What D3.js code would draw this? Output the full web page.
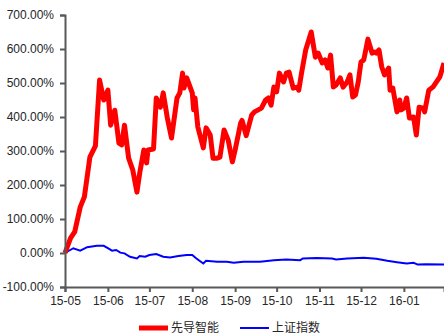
<!DOCTYPE html>
<html>
<head>
<meta charset="utf-8">
<script src="https://cdn.jsdelivr.net/npm/d3@7"></script>
<style>
  body { margin: 0; background: #fff; }
  text { font-family: "Liberation Sans", Arial, sans-serif; }
</style>
</head>
<body>
<div id="chart"></div>
<script>
// 先导智能 vs 上证指数, cumulative return (%)
var seriesNames = ["先导智能", "上证指数"];
var yTicks = [-100, 0, 100, 200, 300, 400, 500, 600, 700];
var monthTicks = ["2015-05-01","2015-06-01","2015-07-01","2015-08-01","2015-09-01","2015-10-01","2015-11-01","2015-12-01","2016-01-01"];

var xdDates = ["2015-05-01","2015-05-05","2015-05-08","2015-05-12","2015-05-15","2015-05-19","2015-05-23","2015-05-26","2015-05-29","2015-06-01",
  "2015-06-03","2015-06-06","2015-06-09","2015-06-11","2015-06-13","2015-06-16","2015-06-19","2015-06-22","2015-06-24","2015-06-27",
  "2015-06-29","2015-06-30","2015-07-04","2015-07-06","2015-07-09","2015-07-11","2015-07-14","2015-07-17","2015-07-21","2015-07-23",
  "2015-07-25","2015-07-26","2015-07-28","2015-08-01","2015-08-02","2015-08-03","2015-08-05","2015-08-09","2015-08-11","2015-08-14",
  "2015-08-16","2015-08-19","2015-08-21","2015-08-24","2015-08-27","2015-08-30","2015-09-01","2015-09-05","2015-09-06","2015-09-09",
  "2015-09-13","2015-09-15","2015-09-20","2015-09-23","2015-09-25","2015-09-27","2015-09-29","2015-10-01","2015-10-03","2015-10-06",
  "2015-10-08","2015-10-10","2015-10-13","2015-10-16","2015-10-17","2015-10-19","2015-10-22","2015-10-26","2015-10-29","2015-10-31",
  "2015-11-03","2015-11-05","2015-11-07","2015-11-09","2015-11-11","2015-11-13","2015-11-16","2015-11-18","2015-11-21","2015-11-23",
  "2015-11-25","2015-11-27","2015-11-29","2015-12-01","2015-12-03","2015-12-06","2015-12-09","2015-12-11","2015-12-12","2015-12-14",
  "2015-12-16","2015-12-18","2015-12-21","2015-12-22","2015-12-24","2015-12-27","2015-12-29","2015-12-30","2016-01-01","2016-01-03",
  "2016-01-05","2016-01-08","2016-01-10","2016-01-12","2016-01-15","2016-01-16","2016-01-19","2016-01-22","2016-01-27","2016-01-30"];
var xdValues = [0,44,62,135,165,282,315,509,450,479,
  376,420,323,318,376,279,244,179,235,303,
  265,303,306,456,429,471,397,338,456,471,
  529,485,515,471,421,456,371,309,368,347,
  279,279,282,362,332,268,303,382,390,345,
  406,415,426,450,456,435,488,474,529,503,
  529,532,485,488,479,529,597,650,576,588,
  559,568,544,582,488,494,515,488,503,524,
  459,465,503,562,568,629,588,591,588,597,
  547,524,544,479,485,415,450,421,426,456,
  397,400,347,429,426,415,479,488,518,559];

var szDates = ["2015-05-01","2015-05-07","2015-05-12","2015-05-17","2015-05-24","2015-05-29","2015-06-01","2015-06-04","2015-06-07","2015-06-10",
  "2015-06-13","2015-06-17","2015-06-22","2015-06-24","2015-06-28","2015-07-01","2015-07-06","2015-07-11","2015-07-16","2015-07-22",
  "2015-07-28","2015-08-01","2015-08-04","2015-08-09","2015-08-11","2015-08-19","2015-08-26","2015-08-31","2015-09-07","2015-09-19",
  "2015-09-29","2015-10-08","2015-10-18","2015-10-20","2015-10-30","2015-11-10","2015-11-13","2015-11-21","2015-12-03","2015-12-12",
  "2015-12-20","2015-12-27","2016-01-03","2016-01-08","2016-01-11","2016-01-17","2016-01-30"];
var szValues = [0,14,7,17,21,21,14,7,9,1,
  -1,-11,-16,-9,-11,-6,-3,-11,-13,-9,
  -6,-6,-16,-31,-23,-26,-26,-29,-26,-26,
  -21,-19,-21,-16,-15,-16,-19,-16,-14,-17,
  -23,-27,-31,-29,-34,-33,-34];

var parse = d3.timeParse("%Y-%m-%d");
var xd = xdDates.map(function(d, i) { return {date: parse(d), value: xdValues[i]}; });
var sz = szDates.map(function(d, i) { return {date: parse(d), value: szValues[i]}; });

var width = 444, height = 335;
var svg = d3.select("#chart").append("svg")
  .attr("width", width)
  .attr("height", height);

var x = d3.scaleTime()
  .domain([parse("2015-05-01"), parse("2016-01-30")])
  .range([65, 444]);
var y = d3.scaleLinear()
  .domain([-100, 700])
  .range([287, 15]);

var line = d3.line()
  .x(function(d) { return x(d.date); })
  .y(function(d) { return y(d.value); });

svg.append("path")
  .datum(sz)
  .attr("fill", "none")
  .attr("stroke", "#0000ff")
  .attr("stroke-width", 2)
  .attr("d", line);

svg.append("path")
  .datum(xd)
  .attr("fill", "none")
  .attr("stroke", "#ff0000")
  .attr("stroke-width", 5)
  .attr("stroke-linejoin", "round")
  .attr("d", line);

var yAxis = svg.append("g")
  .attr("transform", "translate(65,0)")
  .call(d3.axisLeft(y).tickValues(yTicks).tickSize(5).tickPadding(6)
    .tickFormat(function(d) { return d.toFixed(2) + "%"; }));

var xAxis = svg.append("g")
  .attr("transform", "translate(0,287)")
  .call(d3.axisBottom(x).tickValues(monthTicks.map(parse)).tickSize(5).tickPadding(4)
    .tickFormat(d3.timeFormat("%y-%m")));

[yAxis, xAxis].forEach(function(g) {
  g.select(".domain").attr("stroke", "#595959").attr("stroke-width", 2);
  g.selectAll(".tick line").attr("stroke", "#595959").attr("stroke-width", 2);
  g.selectAll("text").attr("fill", "#262626").style("font-size", "12px")
    .style("font-family", "'Liberation Sans', Arial, sans-serif");
});

// legend
var legend = [
  {name: seriesNames[0], color: "#ff0000", w: 5, x: 139},
  {name: seriesNames[1], color: "#0000ff", w: 2, x: 240}
];
var lg = svg.selectAll(".legend").data(legend).enter().append("g")
  .attr("class", "legend")
  .attr("transform", function(d) { return "translate(" + d.x + ",328)"; });
lg.append("line")
  .attr("x1", 0).attr("x2", 29)
  .attr("stroke", function(d) { return d.color; })
  .attr("stroke-width", function(d) { return d.w; });
lg.append("text")
  .attr("x", 32).attr("dy", "0.35em")
  .attr("fill", "#262626")
  .style("font-size", "12px")
  .style("font-family", "'Noto Sans CJK SC', sans-serif")
  .text(function(d) { return d.name; });
</script>
</body>
</html>
